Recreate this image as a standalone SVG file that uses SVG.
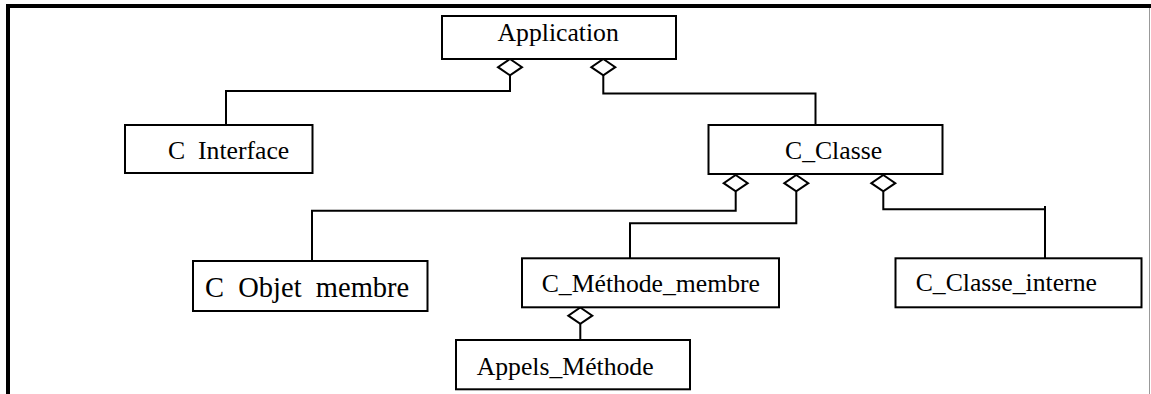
<svg xmlns="http://www.w3.org/2000/svg" width="1151" height="394" viewBox="0 0 1151 394">
  <defs>
    <style>
      .box { fill: #fff; stroke: #000; stroke-width: 2; }
      .lbl { font-size: 25.7px; fill: #000; white-space: pre; }
      .big { font-size: 28.5px; }
      .link { fill: none; stroke: #000; stroke-width: 2; }
      .agg { fill: #fff; stroke: #000; stroke-width: 2; stroke-linejoin: miter; }
    </style>
    <!-- hollow aggregation diamond, top vertex at origin -->
    <polygon id="diamond" points="0,0 12,8.2 0,16.4 -12,8.2"/>
  </defs>

  <rect width="1151" height="394" fill="#fff"/>

  <!-- frame -->
  <g id="frame">
    <rect x="6" y="4" width="1145" height="4" fill="#000"/>
    <rect x="6" y="4" width="4" height="390" fill="#000"/>
    <line x1="1149.5" y1="8" x2="1149.5" y2="394" stroke="#999" stroke-width="1"/>
  </g>

  <!-- connectors -->
  <g id="connectors">
    <path class="link" d="M510,74 V91 H226 V125"/>
    <path class="link" d="M603.3,74 V93.5 H815.5 V125"/>
    <path class="link" d="M735.7,191.5 V210.7 H312 V261"/>
    <path class="link" d="M796.3,191.5 V223.3 H630 V258.3"/>
    <path class="link" d="M883.3,191.5 V209.3 H1045 V258.3"/>
    <path class="link" d="M1045,206 V210"/>
    <path class="link" d="M580.3,324 V340"/>
    <use href="#diamond" class="agg" x="510" y="59"/>
    <use href="#diamond" class="agg" x="603.3" y="59"/>
    <use href="#diamond" class="agg" x="735.7" y="175"/>
    <use href="#diamond" class="agg" x="796.3" y="175"/>
    <use href="#diamond" class="agg" x="883.3" y="175"/>
    <use href="#diamond" class="agg" x="580.3" y="307.5"/>
  </g>

  <g font-family="'Liberation Serif', 'DejaVu Serif', serif">
    <g id="application">
      <rect class="box" x="442" y="16" width="234" height="43"/>
      <text class="lbl" x="497.5" y="40.7">Application</text>
    </g>

    <g id="c-interface">
      <rect class="box" x="125" y="125" width="187.5" height="48"/>
      <text class="lbl" x="168" y="159">C  Interface</text>
    </g>

    <g id="c-classe">
      <rect class="box" x="708.5" y="125" width="234" height="49"/>
      <text class="lbl" x="785" y="158.7">C_Classe</text>
    </g>

    <g id="c-objet-membre">
      <rect class="box" x="193" y="261" width="234.5" height="50"/>
      <text class="lbl big" x="205" y="297.3">C  Objet  membre</text>
    </g>

    <g id="c-methode-membre">
      <rect class="box" x="522" y="258.3" width="257" height="49"/>
      <text class="lbl" x="541.7" y="291.7">C_Méthode_membre</text>
    </g>

    <g id="c-classe-interne">
      <rect class="box" x="895.5" y="258.3" width="246" height="49"/>
      <text class="lbl" x="915.7" y="291">C_Classe_interne</text>
    </g>

    <g id="appels-methode">
      <rect class="box" x="456" y="340" width="234" height="49.3"/>
      <text class="lbl" x="476.7" y="375">Appels_Méthode</text>
    </g>
  </g>
</svg>
